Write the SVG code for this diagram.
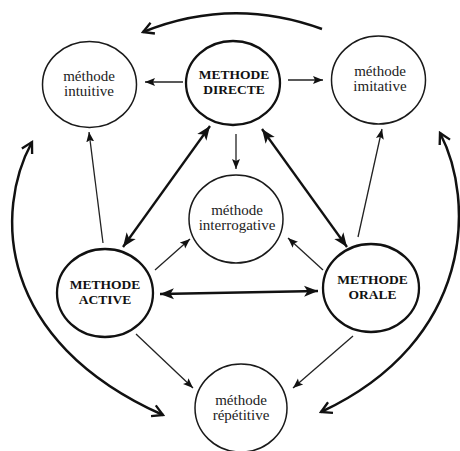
<svg xmlns="http://www.w3.org/2000/svg" width="460" height="451" viewBox="0 0 460 451">
<style>
.n{fill:#fff;stroke:#1a1a1a;stroke-width:1.5}
.b{fill:#fff;stroke:#111;stroke-width:2.3}
.t{font-family:"Liberation Serif",serif;font-size:15px;fill:#222;text-anchor:middle}
.tb{font-family:"Liberation Serif",serif;font-size:13.5px;font-weight:bold;fill:#111;text-anchor:middle}
.thin{fill:none;stroke:#222;stroke-width:1.3;marker-end:url(#a)}
.thick{fill:none;stroke:#111;stroke-width:2.3;marker-start:url(#A);marker-end:url(#A)}
.arc{fill:none;stroke:#111;stroke-width:2.5}
</style>
<defs>
<marker id="a" viewBox="0 0 10 10" refX="10" refY="5" markerWidth="10" markerHeight="10" markerUnits="userSpaceOnUse" orient="auto-start-reverse">
<path d="M0,1 L10,5 L0,9 L2,5 Z" fill="#111"/>
</marker>
<marker id="A" viewBox="0 0 10 10" refX="10" refY="5" markerWidth="14" markerHeight="14" markerUnits="userSpaceOnUse" orient="auto-start-reverse">
<path d="M0,1 L10,5 L0,9 L2.5,5 Z" fill="#111"/>
</marker>
<marker id="v" viewBox="0 0 12 12" refX="10" refY="6" markerWidth="14" markerHeight="14" markerUnits="userSpaceOnUse" orient="auto-start-reverse">
<path d="M1,1 L10,6 L1,11" fill="none" stroke="#111" stroke-width="2"/>
</marker>
</defs>
<g id="connectors">
<line class="thin" x1="183" y1="82" x2="145" y2="82"/>
<line class="thin" x1="288" y1="80" x2="323" y2="80"/>
<line class="thin" x1="236" y1="134" x2="236" y2="169"/>
<line class="thick" x1="123" y1="247" x2="210" y2="126"/>
<line class="thick" x1="262" y1="129" x2="347" y2="247"/>
<line class="thick" x1="160" y1="294" x2="318" y2="291"/>
<line class="thin" x1="103" y1="243" x2="89" y2="132"/>
<line class="thin" x1="358" y1="237" x2="382" y2="129"/>
<line class="thin" x1="155" y1="270" x2="190" y2="239"/>
<line class="thin" x1="323" y1="270" x2="288" y2="238"/>
<line class="thin" x1="136" y1="334" x2="193" y2="388"/>
<line class="thin" x1="353" y1="336" x2="293" y2="388"/>
<path class="arc" d="M322 29 Q232 -4 143 32" marker-end="url(#v)"/>
<path class="arc" d="M32 142 C-5 210 -5 340 163 415" marker-start="url(#v)" marker-end="url(#v)"/>
<path class="arc" d="M440 133 C475 200 475 340 321 412" marker-start="url(#v)" marker-end="url(#v)"/>
</g>
<g id="intuitive">
<ellipse class="n" cx="89.5" cy="84.5" rx="47" ry="43"/>
<text class="t" x="89" y="81">méthode</text>
<text class="t" x="89" y="96">intuitive</text>
</g>
<g id="directe">
<ellipse class="b" cx="233" cy="83" rx="47" ry="42"/>
<text class="tb" x="234" y="79">METHODE</text>
<text class="tb" x="234" y="93.5">DIRECTE</text>
</g>
<g id="imitative">
<ellipse class="n" cx="378.5" cy="80" rx="47" ry="44"/>
<text class="t" x="380" y="76">méthode</text>
<text class="t" x="380" y="91">imitative</text>
</g>
<g id="interrogative">
<ellipse class="n" cx="236" cy="219" rx="47" ry="44"/>
<text class="t" x="237" y="215">méthode</text>
<text class="t" x="237" y="230">interrogative</text>
</g>
<g id="active">
<ellipse class="b" cx="105" cy="293" rx="48" ry="44"/>
<text class="tb" x="105" y="289">METHODE</text>
<text class="tb" x="105" y="303.5">ACTIVE</text>
</g>
<g id="orale">
<ellipse class="b" cx="371" cy="288" rx="48" ry="44"/>
<text class="tb" x="372.5" y="284">METHODE</text>
<text class="tb" x="372.5" y="298.5">ORALE</text>
</g>
<g id="repetitive">
<ellipse class="n" cx="241" cy="408" rx="46" ry="44"/>
<text class="t" x="241" y="405">méthode</text>
<text class="t" x="241" y="420">répétitive</text>
</g>
</svg>
